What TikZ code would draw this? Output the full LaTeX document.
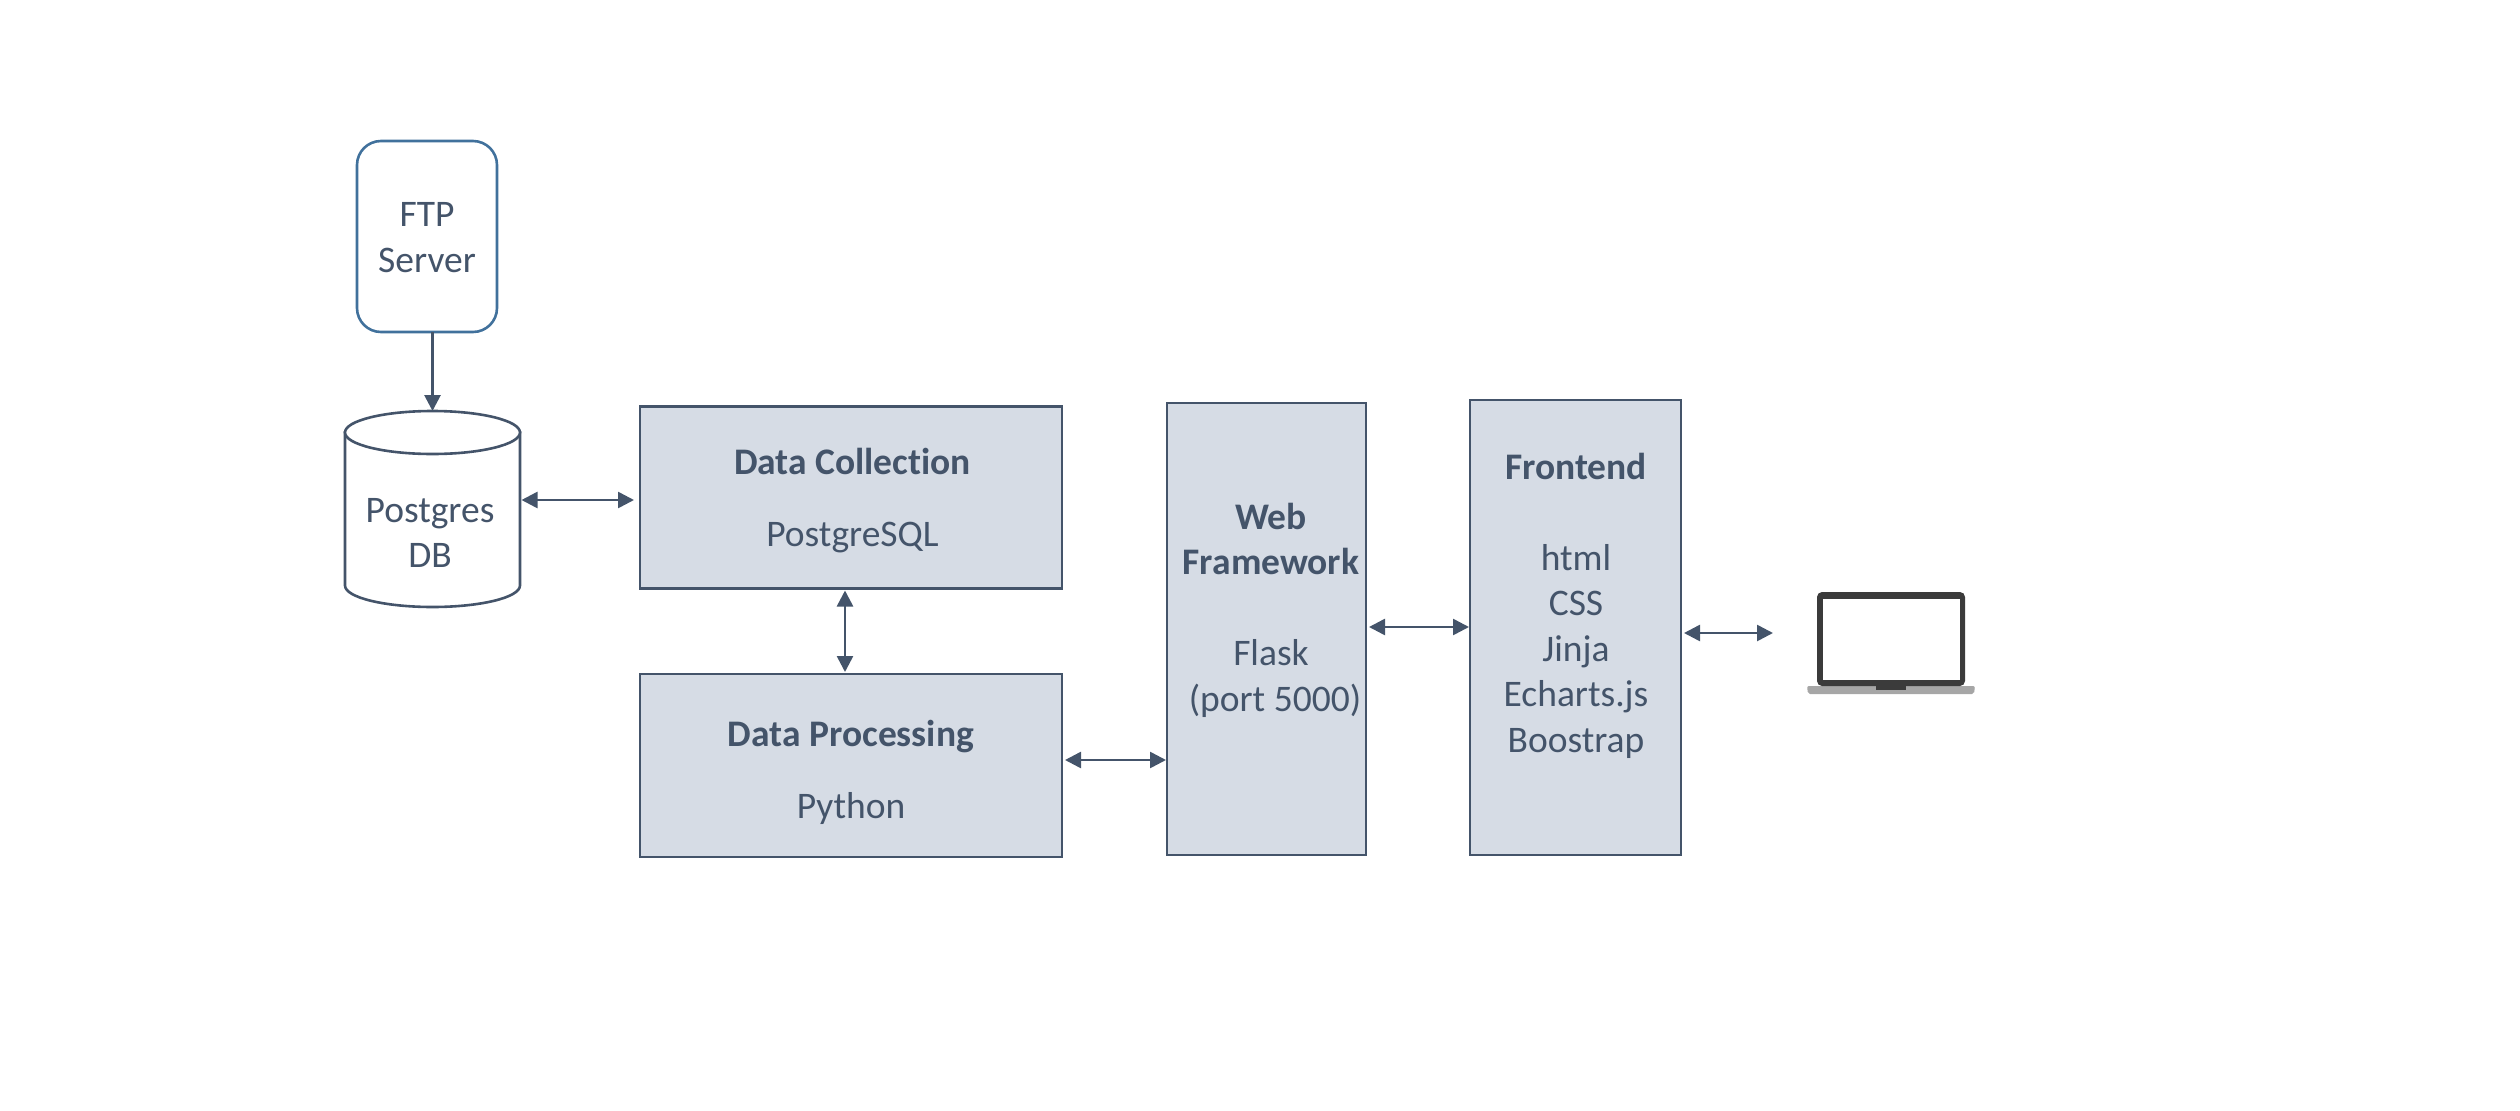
\documentclass[tikz,border=0pt]{standalone}
\usepackage{fontspec}
\setmainfont{Carlito}[Ligatures=NoCommon]
\usetikzlibrary{arrows.meta,calc}
\definecolor{slate}{HTML}{44546A}
\definecolor{boxfill}{HTML}{D6DCE5}
\definecolor{ftpblue}{HTML}{41719C}
\definecolor{lapdark}{HTML}{3B3B3B}
\definecolor{lapgrey}{HTML}{A6A6A6}
\newcommand\padleft[1]{\hspace*{#1pt}}
\newcommand\topgap[1]{\rule{0pt}{#1pt}}
\tikzset{
  x=1pt,y=-1pt,
  lbl/.style={text=slate,font=\fontsize{37.5pt}{45.5pt}\selectfont,align=center,inner sep=0pt,outer sep=0pt},
  box/.style={lbl,draw=slate,line width=2.6pt,fill=boxfill},
  ftpbox/.style={lbl,draw=ftpblue,line width=2.6pt,rounded corners=24pt,fill=white},
  dbframe/.style={draw=none,inner sep=0pt,outer sep=0pt},
  dbline/.style={draw=slate,line width=2.6pt,fill=white},
  one/.style={draw=slate,line width=2.8pt,-{Triangle[length=16pt,width=16pt]}},
  both/.style={draw=slate,line width=2.6pt,{Triangle[length=16pt,width=16pt]}-{Triangle[length=16pt,width=16pt]}},
}
\begin{document}
\begin{tikzpicture}
\useasboundingbox (0,0) rectangle (2520,1111);
\node[ftpbox,minimum width=140pt,minimum height=191pt] (ftp) at (427,236.5) {\topgap{26}FTP\\Server};
\node[dbframe,minimum width=175pt,minimum height=196pt] (db) at (432.5,509) {};
\draw[dbline] ([shift={(0,21.5)}]db.north west) -- ([shift={(0,-21.5)}]db.south west)
  .. controls ([shift={(0,-9.6)}]db.south west) and ([shift={(-48.3,0)}]db.south) .. (db.south)
  .. controls ([shift={(48.3,0)}]db.south) and ([shift={(0,-9.6)}]db.south east) .. ([shift={(0,-21.5)}]db.south east)
  -- ([shift={(0,21.5)}]db.north east) -- cycle;
\draw[dbline] ([shift={(0,21.5)}]db.north) ellipse [x radius=87.5pt,y radius=21.5pt];
\node[lbl] (dblabel) at (430,533) {Postgres\\DB};
\node[box,minimum width=422pt,minimum height=182pt] (dc) at (851,497.5) {\topgap{32.5}\padleft{3}\textbf{Data Collection}\\[26.5pt]\padleft{3}PostgreSQL};
\node[box,minimum width=422pt,minimum height=183pt] (dp) at (851,765.5) {\topgap{40}\textbf{Data Processing}\\[26.5pt]Python};
\node[box,minimum width=199pt,minimum height=452pt] (web) at (1266.5,629) {\padleft{9}\textbf{Web}\\\padleft{9}\textbf{Framework}\\[45.5pt]\padleft{9}Flask\\\padleft{17}(port 5000)\\[-2pt]\mbox{}};
\node[box,minimum width=211pt,minimum height=455pt] (fe) at (1575.5,627.5) {\padleft{1}\textbf{Frontend}\\[45.5pt]\padleft{1}html\\\padleft{1}CSS\\\padleft{1}Jinja\\\padleft{1}Echarts.js\\\padleft{1}Boostrap\\[4pt]\mbox{}};
\coordinate (lapport) at (1773,633);
\draw[one] ([shift={(5.5,0)}]ftp.south) -- ([shift={(0,-98)}]db.center);
\draw[both] ([shift={(89,-9)}]db.center) -- ([shift={(-6,2.5)}]dc.west);
\draw[both] ([shift={(-6,2)}]dc.south) -- ([shift={(-6,-2)}]dp.north);
\draw[both] ([shift={(3,-5.5)}]dp.east) -- ([shift={(-1,131)}]web.west);
\draw[both] ([shift={(3,-2)}]web.east) -- ([shift={(-1,-0.5)}]fe.west);
\draw[both] ([shift={(3,5.5)}]fe.east) -- (lapport);
% laptop
\fill[lapgrey,rounded corners=2pt] (1807,686) -- (1975,686) -- (1974,694) -- (1808,694) -- cycle;
\fill[lapdark,rounded corners=5pt] (1817,686) -- (1817,592) -- (1965,592) -- (1965,686) -- cycle;
\fill[white] (1822.5,599) rectangle (1959.5,679.5);
\fill[lapdark] (1876,685) rectangle (1906,689.5);
\end{tikzpicture}
\end{document}
